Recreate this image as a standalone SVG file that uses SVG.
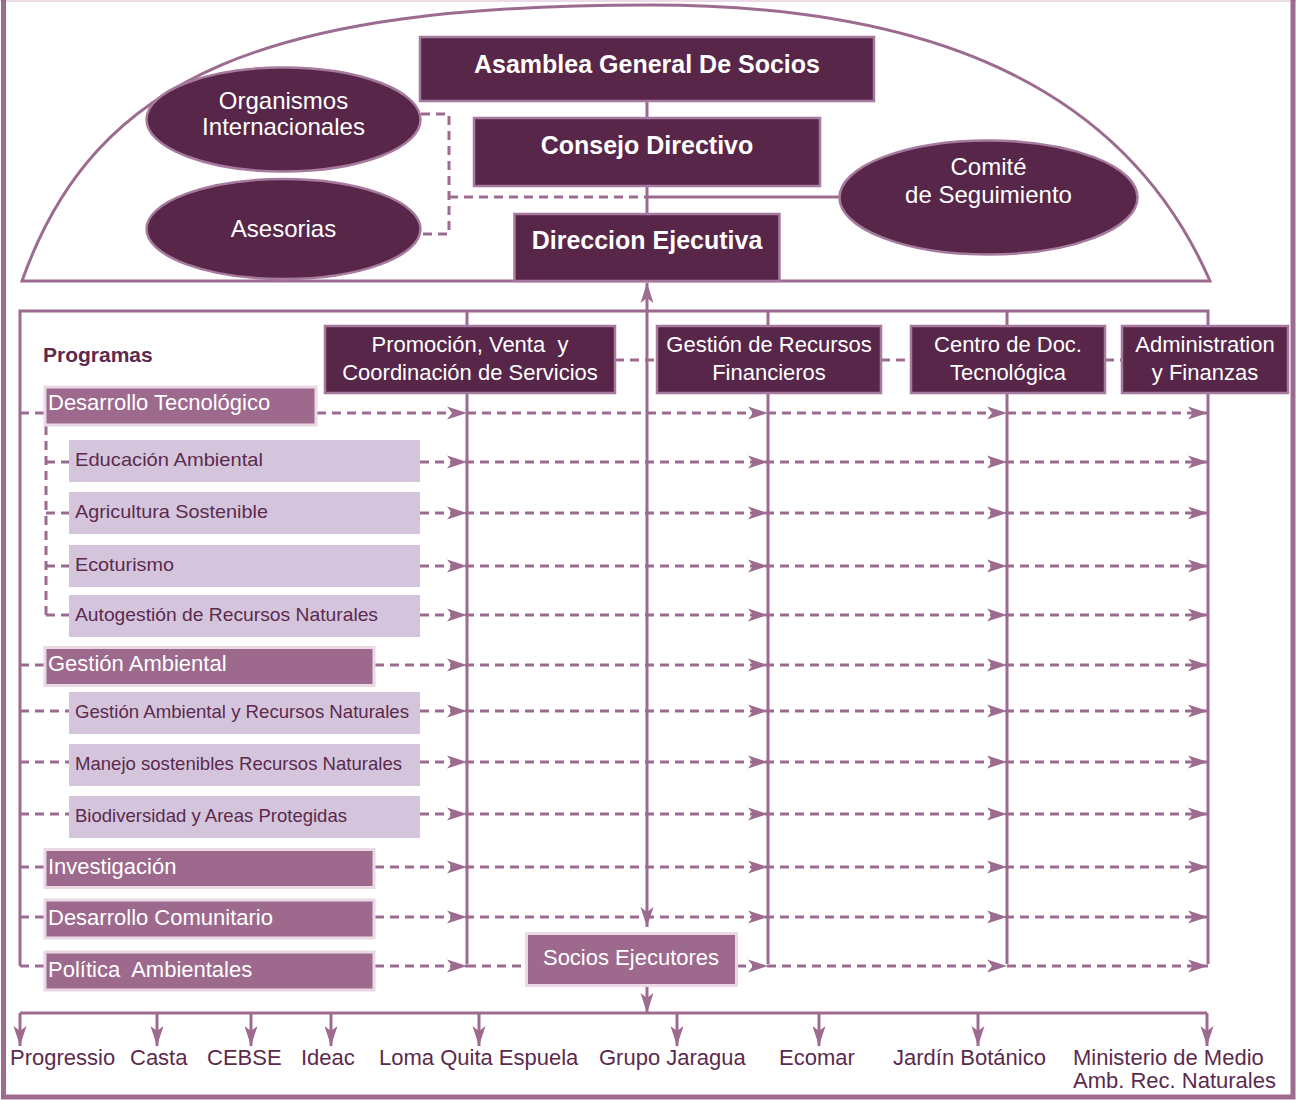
<svg xmlns="http://www.w3.org/2000/svg" width="1296" height="1100" viewBox="0 0 1296 1100">
  <defs>
    <style>
      .ln { stroke: #9d6b8f; stroke-width: 3; fill: none; }
      .dash { stroke: #9d6b8f; stroke-width: 3; fill: none; stroke-dasharray: 9 6; }
      .row { stroke: #9d6b8f; stroke-width: 3; fill: none; stroke-dasharray: 9 6; marker-mid: url(#ah); marker-end: url(#ah); }
      .arr { marker-end: url(#ah); }
      .dark { fill: #582649; stroke: #a57a9d; stroke-width: 2.5; }
      .ell { fill: #582649; stroke: #a57a9d; stroke-width: 2.5; }
      .prog { fill: #9d6a8d; stroke: #ead8e5; stroke-width: 3; }
      .sub { fill: #d4c5dd; }
      text { font-family: "Liberation Sans", Arial, sans-serif; white-space: pre; }
      .tb { fill: #ffffff; font-weight: bold; font-size: 25px; text-anchor: middle; }
      .te { fill: #ffffff; font-size: 24px; text-anchor: middle; }
      .tm { fill: #ffffff; font-size: 22px; text-anchor: middle; }
      .tp { fill: #ffffff; font-size: 22px; }
      .ts { fill: #5b2a4d; font-size: 19px; }
      .tl { fill: #5b2a4d; font-size: 22px; }
    </style>
    <marker id="ah" viewBox="0 0 20 14" markerWidth="20" markerHeight="14" refX="20" refY="7" orient="auto-start-reverse" markerUnits="userSpaceOnUse">
      <path d="M0,0.5 L20,7 L0,13.5 L5,7 Z" fill="#9d6b8f"/>
    </marker>
  </defs>

  <rect x="0" y="0" width="1296" height="1100" fill="#ffffff"/>

  <!-- page frame -->
  <line x1="0" y1="1" x2="1296" y2="1" stroke="#eadbe6" stroke-width="2"/>
  <path d="M3.5,0 V1097 H1293 V0" fill="none" stroke="#9d6b8f" stroke-width="5"/>

  <!-- dome enclosing the governing bodies -->
  <path id="dome" class="ln" stroke-width="2.5" d="M22,281 C95.5,73.5 270,5 650,5 C950,5 1130,98 1210,281 Z"/>

  <g id="connectors">
    <!-- governing chain -->
    <path class="ln" d="M647,101 V118 M647,186 V214"/>
    <path class="dash" d="M421,114 H449 V234 H421 M449,197 H647"/>
    <path class="ln" stroke-width="2.5" d="M647,197 H840"/>

    <!-- main frame of the operating area -->
    <path class="ln" d="M20,966 V311 H1208 V964"/>
    <path class="ln" d="M467,311 V964 M768,311 V964 M1007,311 V964"/>
    <path class="ln" style="marker-start:url(#ah);marker-end:url(#ah)" d="M647,283 V927"/>

    <!-- links between departments -->
    <path class="dash" d="M615,360 H657 M881,360 H911 M1105,360 H1122"/>

    <!-- program branches on the left -->
    <path class="dash" d="M46,426 V615 M46,462 H69 M46,513 H69 M46,566 H69 M46,615 H69"/>
    <path class="dash" d="M20,413 H44 M20,665 H44 M20,867 H44 M20,917 H44 M20,966 H44"/>
    <path class="dash" d="M20,711 H69 M20,762 H69 M20,814 H69"/>

    <!-- program rows toward the departments -->
    <path class="row" d="M317,413 H467 H768 H1007 H1208"/>
    <path class="row" d="M420,462 H467 H768 H1007 H1208"/>
    <path class="row" d="M420,513 H467 H768 H1007 H1208"/>
    <path class="row" d="M420,566 H467 H768 H1007 H1208"/>
    <path class="row" d="M420,615 H467 H768 H1007 H1208"/>
    <path class="row" d="M375,665 H467 H768 H1007 H1208"/>
    <path class="row" d="M420,711 H467 H768 H1007 H1208"/>
    <path class="row" d="M420,762 H467 H768 H1007 H1208"/>
    <path class="row" d="M420,814 H467 H768 H1007 H1208"/>
    <path class="row" d="M375,867 H467 H768 H1007 H1208"/>
    <path class="row" d="M375,917 H467 H768 H1007 H1208"/>
    <path class="row" d="M375,966 H467"/>
    <path class="dash" d="M467,966 H525"/>
    <path class="row" d="M737,966 H768 H1007 H1208"/>

    <!-- distribution to executing partners -->
    <path class="ln arr" d="M647,987 V1013"/>
    <path class="ln" d="M20,1013 H1207"/>
    <path class="ln arr" d="M20,1013 V1046"/>
    <path class="ln arr" d="M157,1013 V1046"/>
    <path class="ln arr" d="M251,1013 V1046"/>
    <path class="ln arr" d="M331,1013 V1046"/>
    <path class="ln arr" d="M479,1013 V1046"/>
    <path class="ln arr" d="M677,1013 V1046"/>
    <path class="ln arr" d="M819,1013 V1046"/>
    <path class="ln arr" d="M978,1013 V1046"/>
    <path class="ln arr" d="M1207,1013 V1046"/>
  </g>

  <!-- governing bodies -->
  <g id="asamblea">
    <rect class="dark" x="420" y="37" width="454" height="64"/>
    <text class="tb" x="647" y="73">Asamblea General De Socios</text>
  </g>
  <g id="consejo">
    <rect class="dark" x="474" y="118" width="346" height="68"/>
    <text class="tb" x="647" y="154">Consejo Directivo</text>
  </g>
  <g id="direccion">
    <rect class="dark" x="514.5" y="214" width="265" height="67"/>
    <text class="tb" x="647" y="249">Direccion Ejecutiva</text>
  </g>
  <g id="organismos">
    <ellipse class="ell" cx="283.5" cy="119.5" rx="137" ry="52"/>
    <text class="te" x="283.5" y="109">Organismos</text>
    <text class="te" x="283.5" y="135">Internacionales</text>
  </g>
  <g id="asesorias">
    <ellipse class="ell" cx="283.5" cy="229" rx="137" ry="50"/>
    <text class="te" x="283.5" y="237">Asesorias</text>
  </g>
  <g id="comite">
    <ellipse class="ell" cx="988.5" cy="197.5" rx="149" ry="57"/>
    <text class="te" x="988.5" y="175">Comité</text>
    <text class="te" x="988.5" y="203">de Seguimiento</text>
  </g>

  <!-- departments -->
  <g id="promocion">
    <rect class="dark" x="325" y="326" width="290" height="67"/>
    <text class="tm" x="470" y="352">Promoción, Venta  y</text>
    <text class="tm" x="470" y="380">Coordinación de Servicios</text>
  </g>
  <g id="recursos">
    <rect class="dark" x="657" y="326" width="224" height="67"/>
    <text class="tm" x="769" y="352">Gestión de Recursos</text>
    <text class="tm" x="769" y="380">Financieros</text>
  </g>
  <g id="centro">
    <rect class="dark" x="911" y="326" width="194" height="67"/>
    <text class="tm" x="1008" y="352">Centro de Doc.</text>
    <text class="tm" x="1008" y="380">Tecnológica</text>
  </g>
  <g id="administracion">
    <rect class="dark" x="1122" y="326" width="166" height="67"/>
    <text class="tm" x="1205" y="352">Administration</text>
    <text class="tm" x="1205" y="380">y Finanzas</text>
  </g>

  <!-- programs -->
  <g id="programas">
    <text x="43" y="362" fill="#5b2a4d" font-size="21" font-weight="bold">Programas</text>
  </g>
  <g id="desarrollo-tecnologico">
    <rect class="prog" x="45" y="387" width="271" height="38"/>
    <text class="tp" x="48" y="410">Desarrollo Tecnológico</text>
  </g>
  <g id="educacion-ambiental">
    <rect class="sub" x="69" y="440" width="351" height="42"/>
    <text class="ts" x="75" y="466" textLength="188" lengthAdjust="spacingAndGlyphs">Educación Ambiental</text>
  </g>
  <g id="agricultura">
    <rect class="sub" x="69" y="492" width="351" height="42"/>
    <text class="ts" x="75" y="518" textLength="193" lengthAdjust="spacingAndGlyphs">Agricultura Sostenible</text>
  </g>
  <g id="ecoturismo">
    <rect class="sub" x="69" y="545" width="351" height="42"/>
    <text class="ts" x="75" y="571" textLength="99" lengthAdjust="spacingAndGlyphs">Ecoturismo</text>
  </g>
  <g id="autogestion">
    <rect class="sub" x="69" y="595" width="351" height="42"/>
    <text class="ts" x="75" y="621" textLength="303" lengthAdjust="spacingAndGlyphs">Autogestión de Recursos Naturales</text>
  </g>
  <g id="gestion-ambiental">
    <rect class="prog" x="45" y="647.5" width="329" height="38"/>
    <text class="tp" x="48" y="671">Gestión Ambiental</text>
  </g>
  <g id="gestion-recursos-naturales">
    <rect class="sub" x="69" y="692" width="351" height="42"/>
    <text class="ts" x="75" y="718" textLength="334" lengthAdjust="spacingAndGlyphs">Gestión Ambiental y Recursos Naturales</text>
  </g>
  <g id="manejo">
    <rect class="sub" x="69" y="744" width="351" height="42"/>
    <text class="ts" x="75" y="770" textLength="327" lengthAdjust="spacingAndGlyphs">Manejo sostenibles Recursos Naturales</text>
  </g>
  <g id="biodiversidad">
    <rect class="sub" x="69" y="796" width="351" height="42"/>
    <text class="ts" x="75" y="822" textLength="272" lengthAdjust="spacingAndGlyphs">Biodiversidad y Areas Protegidas</text>
  </g>
  <g id="investigacion">
    <rect class="prog" x="45" y="849.5" width="329" height="38"/>
    <text class="tp" x="48" y="874">Investigación</text>
  </g>
  <g id="desarrollo-comunitario">
    <rect class="prog" x="45" y="900" width="329" height="38"/>
    <text class="tp" x="48" y="925">Desarrollo Comunitario</text>
  </g>
  <g id="politica">
    <rect class="prog" x="45" y="952" width="329" height="38"/>
    <text class="tp" x="48" y="977">Política  Ambientales</text>
  </g>

  <!-- executing partners -->
  <g id="socios">
    <rect class="prog" x="526.5" y="933.5" width="210" height="52"/>
    <text class="tm" x="631" y="965">Socios Ejecutores</text>
  </g>
  <g id="partners">
    <text class="tl" x="10" y="1065">Progressio</text>
    <text class="tl" x="130" y="1065">Casta</text>
    <text class="tl" x="207" y="1065">CEBSE</text>
    <text class="tl" x="301" y="1065">Ideac</text>
    <text class="tl" x="379" y="1065">Loma Quita Espuela</text>
    <text class="tl" x="599" y="1065">Grupo Jaragua</text>
    <text class="tl" x="779" y="1065">Ecomar</text>
    <text class="tl" x="893" y="1065">Jardín Botánico</text>
    <text class="tl" x="1073" y="1065">Ministerio de Medio</text>
    <text class="tl" x="1073" y="1088">Amb. Rec. Naturales</text>
  </g>
</svg>
